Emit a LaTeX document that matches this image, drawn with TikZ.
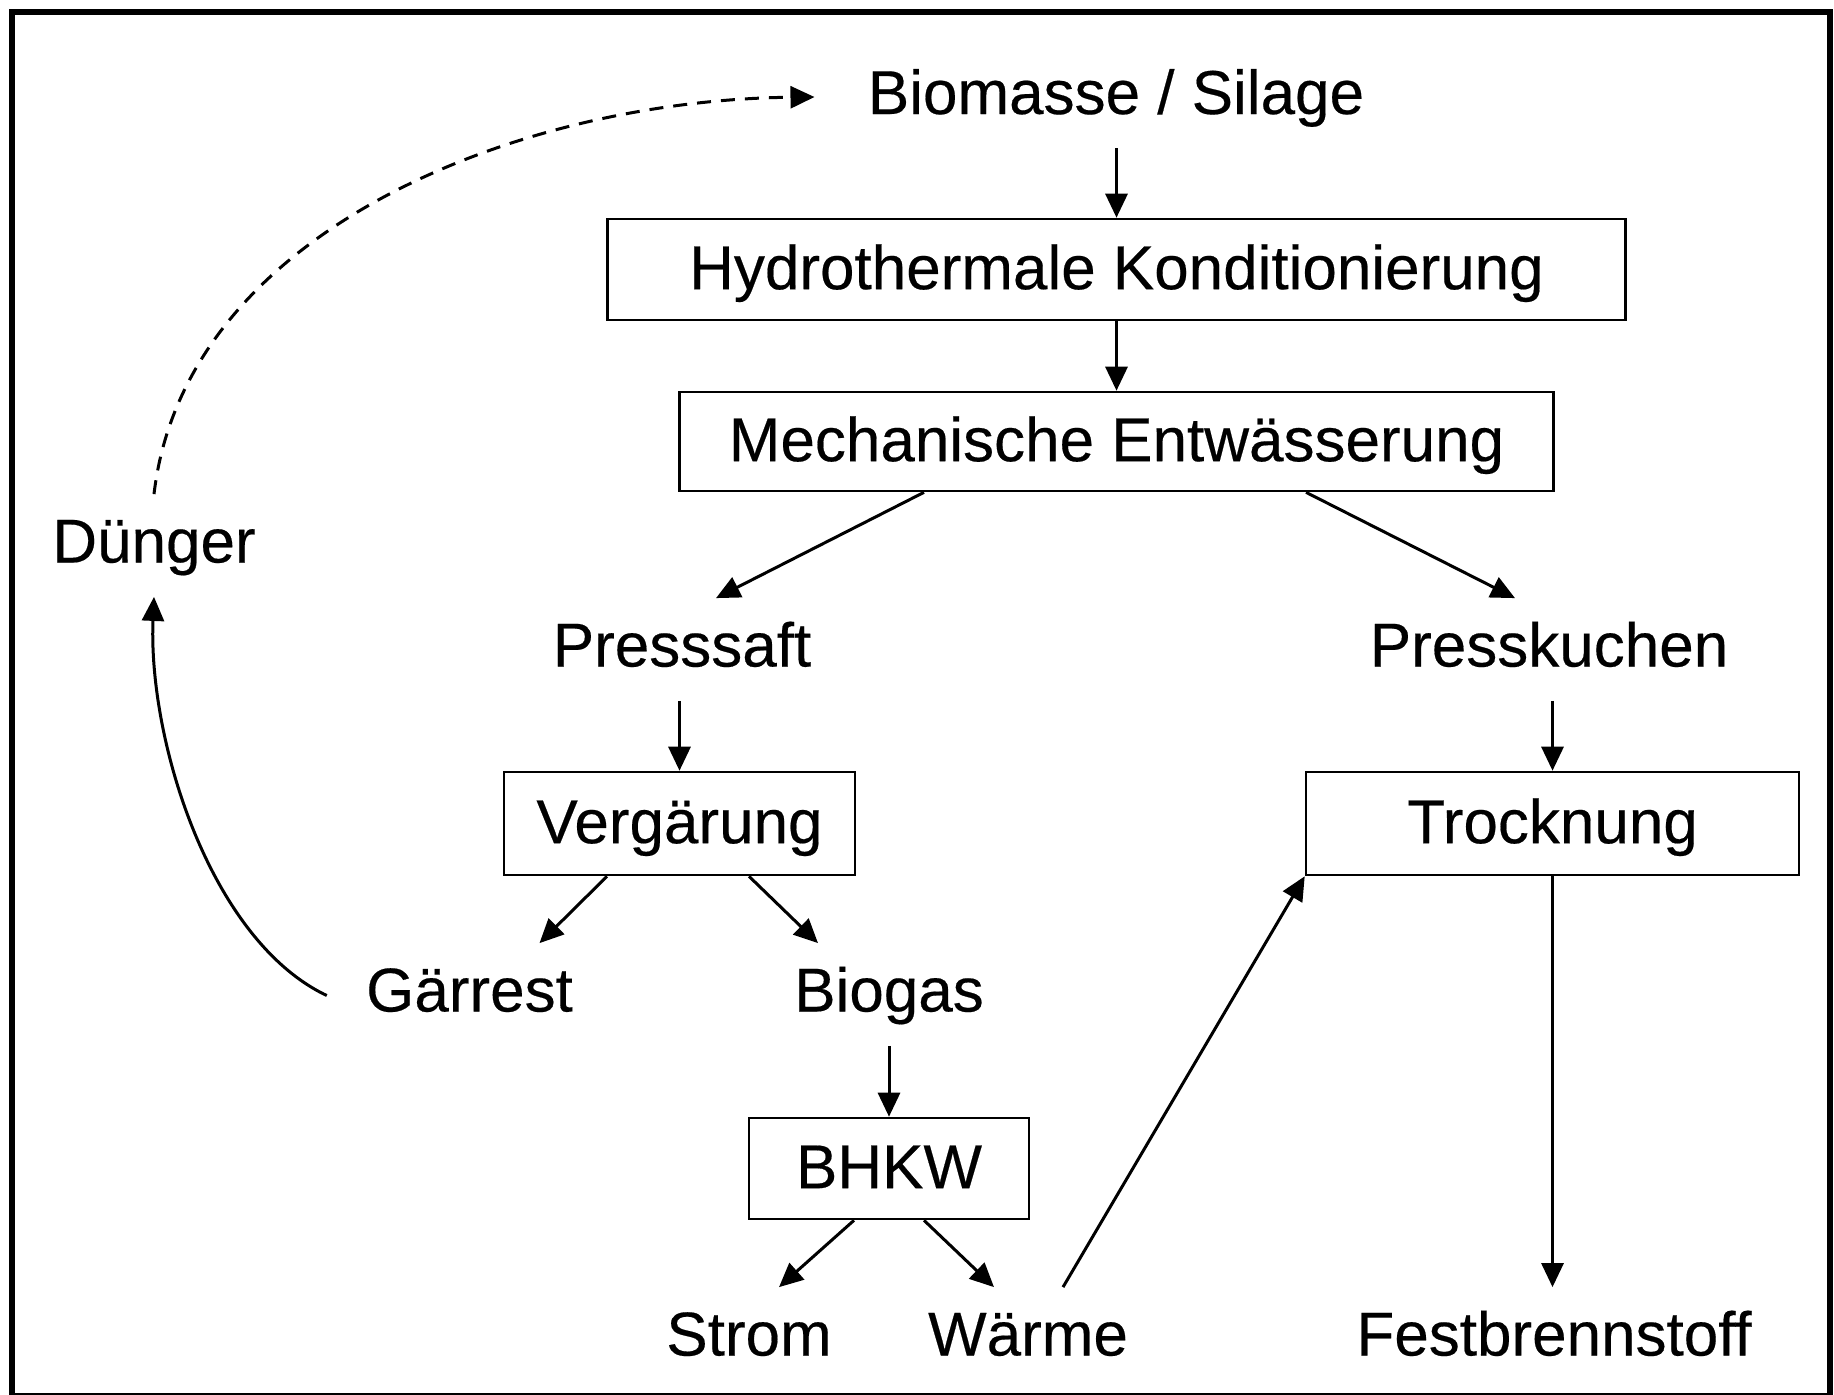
\documentclass[tikz,border=0pt]{standalone}
\usepackage{fontspec}
\setmainfont{Liberation Sans}
\newfontfamily\dfont{Liberation Sans}[FakeBold=0.3]
\usetikzlibrary{arrows.meta}
\begin{document}
\begin{tikzpicture}[x=0.5pt,y=-0.5pt,
  every node/.style={font=\dfont\fontsize{31}{36}\selectfont},
  lbl/.style={inner sep=0pt, text height=34pt, text depth=17pt, anchor=base},
  box/.style={draw, line width=1.3pt, inner sep=0pt, text height=22.2pt, text depth=2.5pt},
  arr/.style={-{Triangle[length=12pt,width=11pt]}, line width=1.5pt},
  dsh/.style={arr, dash pattern=on 7pt off 5pt}]
\useasboundingbox (0,0) rectangle (1834,1394);
\draw[line width=3pt] (12,12) rectangle (1829.5,1396);

% boxes
\node[box, minimum width=509pt, minimum height=50.5pt] (hydro) at (1116.5,269.5) {Hydrothermale Konditionierung};
\node[box, minimum width=437pt, minimum height=49.5pt] (mech) at (1116.5,441.5) {Mechanische Entwässerung};
\node[box, minimum width=175.5pt, minimum height=51.5pt] (verg) at (679.5,823.5) {Vergärung};
\node[box, minimum width=246.5pt, minimum height=51.5pt] (troc) at (1552.5,823.5) {Trocknung};
\node[box, minimum width=140pt, minimum height=50.5pt] (bhkw) at (889,1168.5) {BHKW};

% labels
\node[lbl] (bio) at (1116,114) {Biomasse / Silage};
\node[lbl] (ps) at (682,666.5) {Presssaft};
\node[lbl] (pk) at (1549,666.5) {Presskuchen};
\node[lbl] (gr) at (469.5,1011.5) {Gärrest};
\node[lbl] (bg) at (889,1011.5) {Biogas};
\node[lbl] (st) at (749,1355.5) {Strom};
\node[lbl] (wm) at (1028,1355.5) {Wärme};
\node[lbl] (fb) at (1554,1355.5) {Festbrennstoff};
\node[lbl] (dg) at (154,562.5) {Dünger};

% connectors
\draw[arr] (hydro.north |- bio.south) -- (hydro.north);
\draw[arr] (hydro.south) -- (mech.north);
\draw[arr] ([xshift=-96.25pt]mech.south) -- ([xshift=17pt]ps.north);
\draw[arr] ([xshift=94.75pt]mech.south) -- ([xshift=-17pt]pk.north);
\draw[arr] (verg.north |- ps.south) -- (verg.north);
\draw[arr] (troc.north |- pk.south) -- (troc.north);
\draw[arr] ([xshift=-36.25pt]verg.south) -- ([xshift=35pt]gr.north);
\draw[arr] ([xshift=34.75pt]verg.south) -- ([xshift=-35.5pt]bg.north);
\draw[arr] (bhkw.north |- bg.south) -- (bhkw.north);
\draw[arr] ([xshift=-17.5pt]bhkw.south) -- ([xshift=15pt]st.north);
\draw[arr] ([xshift=17.5pt]bhkw.south) -- ([xshift=-17pt]wm.north);
\draw[arr] ([xshift=17.5pt]wm.north) -- (troc.south west);
\draw[arr] (troc.south) -- (troc.south |- fb.north);
\draw[arr] ([xshift=-19.5pt,yshift=8pt]gr.base west) .. controls (210,940) and (148,740) .. (dg.south);
\draw[dsh] (dg.north) .. controls (185,230) and (520,100) .. ([xshift=-26.5pt]bio.west);
\end{tikzpicture}
\end{document}
